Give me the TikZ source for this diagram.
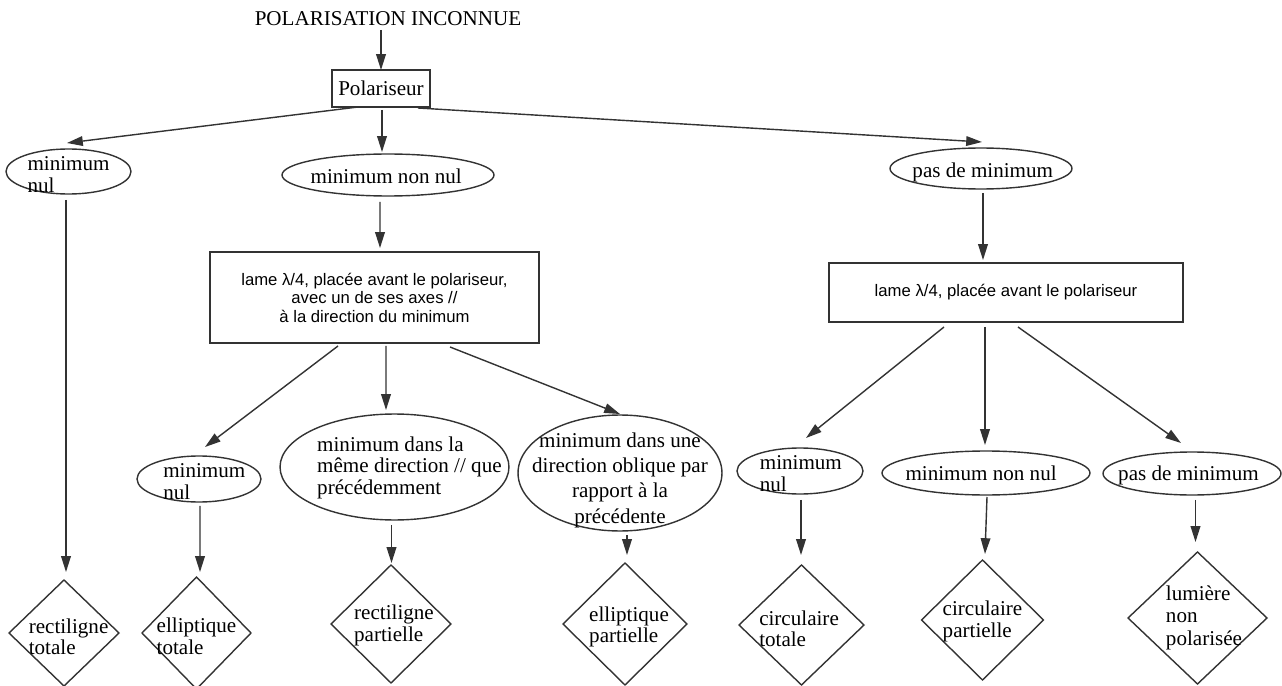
\documentclass[tikz,border=0pt]{standalone}
\usepackage{fontspec}
\setmainfont{Liberation Serif}
\newfontfamily\sansfam{Liberation Sans}
\usepackage{tikz}
\usetikzlibrary{arrows.meta,calc,shapes.geometric}
\definecolor{trait}{HTML}{333333}
\newcommand{\dedans}[4][l]{\makebox[0pt]{\hspace*{#2}\hspace*{#2}\raisebox{#3}[0pt][0pt]{\begin{tabular}[b]{@{}#1@{}}#4\end{tabular}}}}
\tikzset{
  titre/.style={font=\fontsize{12}{14}\selectfont, inner sep=2pt},
  polbox/.style={draw=trait, line width=1pt, font=\fontsize{12}{14}\selectfont,
    inner sep=0pt, outer sep=0pt, minimum width=1.96cm, minimum height=0.74cm},
  lame/.style={draw=trait, line width=0.9pt, align=center, inner sep=0pt, outer sep=0pt,
    font=\sansfam\fontsize{9.5}{10.5}\selectfont},
  etat/.style={ellipse, draw=trait, line width=0.8pt, inner sep=0pt, outer sep=0pt,
    font=\fontsize{12}{12.5}\selectfont},
  issue/.style={diamond, draw=trait, line width=0.8pt, inner sep=0pt, outer sep=0pt,
    font=\fontsize{12}{12.5}\selectfont},
  fleche/.style={-{Triangle[length=9pt,width=5.5pt]}, line width=0.8pt, draw=trait}
}
\begin{document}
\begin{tikzpicture}[x=0.02cm, y=-0.02cm]
  \useasboundingbox (0,0) rectangle (1282,686);
  \node[titre] (titre) at (388,19) {POLARISATION INCONNUE};
  \node[polbox] (pol) at (381,88.5) {Polariseur};
  \node[etat, minimum width=2.5cm, minimum height=0.9cm] (e1) at (68.5,171.5)
    {\dedans{0pt}{-11.7pt}{minimum\\nul}};
  \node[etat, minimum width=4.24cm, minimum height=0.84cm] (e2) at (388,175)
    {\dedans[c]{-1pt}{-4.6pt}{minimum non nul}};
  \node[etat, minimum width=3.64cm, minimum height=0.82cm] (e3) at (981,168.5)
    {\dedans[c]{1pt}{-5.4pt}{pas de minimum}};
  \node[lame, minimum width=6.58cm, minimum height=1.82cm] (L1) at (374.5,297.5)
    {lame λ/4, placée avant le polariseur,\\avec un de ses axes //\\à la direction du minimum};
  \node[lame, minimum width=7.08cm, minimum height=1.18cm] (L2) at (1006,292.5)
    {lame λ/4, placée avant le polariseur};
  \node[etat, minimum width=2.48cm, minimum height=0.92cm] (e4) at (199,479)
    {\dedans{3pt}{-11.4pt}{minimum\\nul}};
  \node[etat, minimum width=4.58cm, minimum height=2.12cm] (e5) at (394.5,467)
    {\dedans{8.5pt}{-15.9pt}{minimum dans la\\même direction // que\\précédemment}};
  \node[etat, minimum width=4.08cm, minimum height=2.32cm, font=\fontsize{12}{14.4}\selectfont] (e6) at (620,473)
    {\dedans[c]{0pt}{-28.5pt}{minimum dans une\\direction oblique par\\rapport à la\\précédente}};
  \node[etat, minimum width=2.52cm, minimum height=0.92cm] (e7) at (800,471)
    {\dedans{0.5pt}{-11.4pt}{minimum\\nul}};
  \node[etat, minimum width=4.16cm, minimum height=0.88cm] (e8) at (986,473)
    {\dedans[c]{-2.8pt}{-4pt}{minimum non nul}};
  \node[etat, minimum width=3.56cm, minimum height=0.86cm] (e9) at (1192,473.5)
    {\dedans[c]{-2pt}{-3.7pt}{pas de minimum}};
  \node[issue, minimum width=2.2cm, minimum height=2.12cm] (D1) at (64,633)
    {\dedans{2.6pt}{-12.5pt}{rectiligne\\totale}};
  \node[issue, minimum width=2.18cm, minimum height=2.24cm] (D2) at (196.5,633)
    {\dedans{0pt}{-12pt}{elliptique\\totale}};
  \node[issue, minimum width=2.4cm, minimum height=2.36cm] (D3) at (391,624)
    {\dedans{1.7pt}{-10.2pt}{rectiligne\\partielle}};
  \node[issue, minimum width=2.48cm, minimum height=2.44cm] (D4) at (625,624)
    {\dedans{2.3pt}{-10.8pt}{elliptique\\partielle}};
  \node[issue, minimum width=2.5cm, minimum height=2.4cm] (D5) at (801.5,625)
    {\dedans{-1.4pt}{-12.5pt}{circulaire\\totale}};
  \node[issue, minimum width=2.44cm, minimum height=2.4cm] (D6) at (982.5,620)
    {\dedans{0pt}{-9.7pt}{circulaire\\partielle}};
  \node[issue, minimum width=2.78cm, minimum height=2.64cm, font=\fontsize{12}{12.8}\selectfont] (D7) at (1197.5,618)
    {\dedans{3.7pt}{-15.4pt}{lumière\\non\\polarisée}};
  \draw[fleche] (pol.north |- titre.south) -- (pol.north);
  \draw[fleche] ($(pol.south)+(-23,0)$) -- ($(e1.north)+(-1.5,-6)$);
  \draw[fleche] ($(pol.south)+(1,3)$) -- ($(e2.north)+(-6,-2)$);
  \draw[fleche] ($(pol.south)+(37,1)$) -- ($(e3.north)+(1,-6)$);
  \draw[fleche] ($(e2.south)+(-8,6)$) -- ($(L1.north)+(5.5,-4)$);
  \draw[fleche] ($(e3.south)+(2,4)$) -- ($(L2.north)+(-23,-3)$);
  \draw[fleche] ($(L1.south)+(-36.5,3)$) -- ($(e4.north)+(6,-9)$);
  \draw[fleche] ($(L1.south)+(11.5,3)$) -- ($(e5.north)+(-8.5,-4)$);
  \draw[fleche] ($(L1.south)+(75.5,4)$) -- ($(e6.north)+(0,-1)$);
  \draw[fleche] ($(L2.south)+(-62,5)$) -- ($(e7.north)+(6,-10)$);
  \draw[fleche] ($(L2.south)+(-21,5)$) -- ($(e8.north)+(-1,-6)$);
  \draw[fleche] ($(L2.south)+(12,5)$) -- ($(e9.north)+(-11,-9)$);
  \draw[fleche] ($(e1.south)+(-2.5,6)$) -- ($(D1.north)+(2,-8)$);
  \draw[fleche] ($(e4.south)+(1,4)$) -- ($(D2.north)+(3.5,-5)$);
  \draw[fleche] ($(e5.south)+(-3,5)$) -- ($(D3.north)+(0.5,-2)$);
  \draw[fleche] ($(e6.south)+(7,4)$) -- ($(D4.north)+(2,-8)$);
  \draw[fleche] ($(e7.south)+(1,6)$) -- ($(D5.north)+(-0.5,-10)$);
  \draw[fleche] ($(e8.south)+(1,2)$) -- ($(D6.north)+(2.5,-6)$);
  \draw[fleche] ($(e9.south)+(3.5,5)$) -- ($(D7.north)+(-2,-10)$);
\end{tikzpicture}
\end{document}
